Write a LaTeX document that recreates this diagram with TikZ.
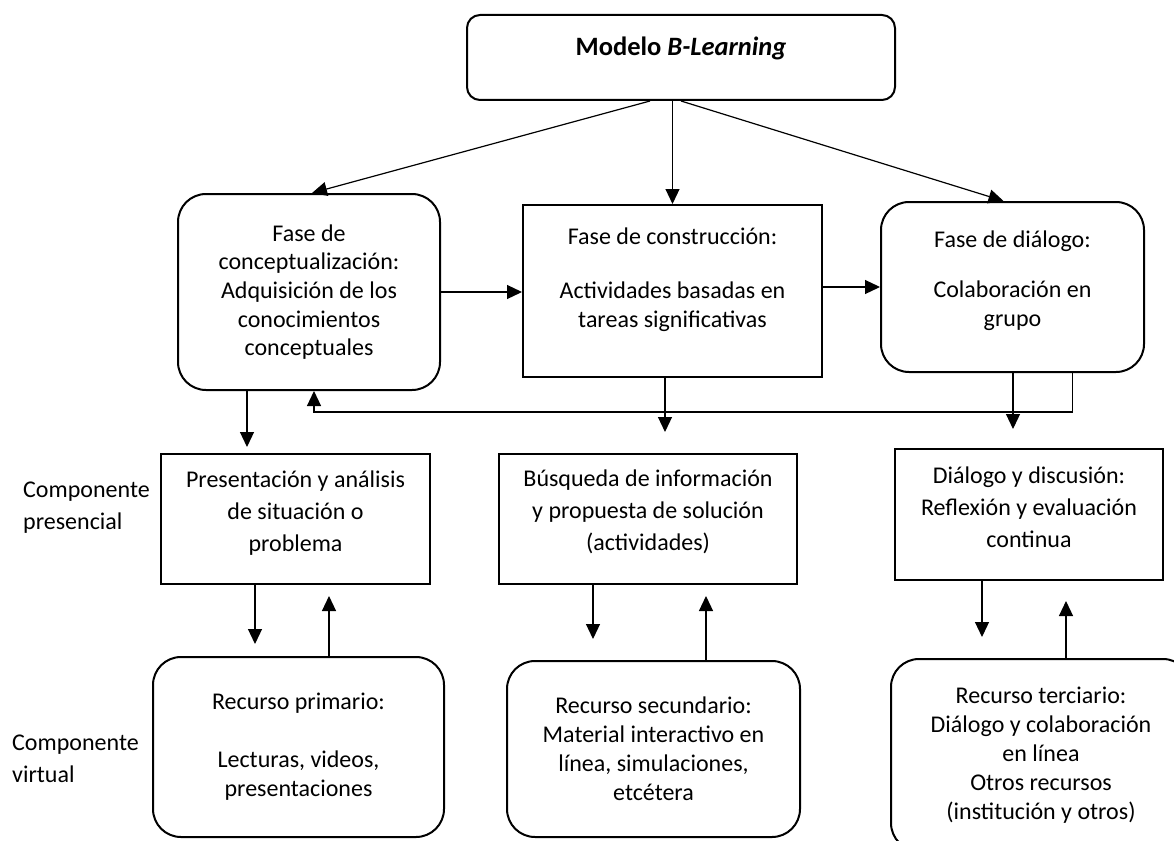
\documentclass[tikz,border=0pt]{standalone}
\usepackage{fontspec}
\setmainfont{Carlito}
\usetikzlibrary{arrows.meta}

\begin{document}
\begin{tikzpicture}[x=1pt, y=-1pt,
  redonda/.style={draw, line width=2pt, rounded corners=28pt, align=center, inner sep=0pt},
  recta/.style={draw, line width=2pt, align=center, inner sep=0pt},
  flecha/.style={-{Triangle[length=15pt,width=14pt]}, line width=1.2pt},
  tipo1/.style={font=\fontsize{24}{28.7}\selectfont},
  tipo2/.style={font=\fontsize{24}{32}\selectfont},
  tipo3/.style={font=\fontsize{24}{29}\selectfont}]
\useasboundingbox (0,0) rectangle (1174,840);
\node[redonda, rounded corners=13pt, font=\fontsize{26.5}{30}\selectfont, minimum width=428, minimum height=85] (m1) at (681,57.5) {\textbf{Modelo \textit{B-Learning}}\\[-8pt]\mbox{}};
% Fases:
\node[redonda, tipo1, minimum width=262, minimum height=196] (f1) at (309,292) {Fase de\\conceptualización:\\Adquisición de los\\conocimientos\\conceptuales};
\node[recta, tipo1, minimum width=299, minimum height=172] (f2) at (672.5,291) {Fase de construcción:\\[26pt]Actividades basadas en\\tareas significativas\\[-2pt]\mbox{}};
\node[redonda, tipo1, minimum width=263, minimum height=170] (f3) at (1012.5,287) {Fase de diálogo:\\[22pt]Colaboración en\\grupo\\[-12pt]\mbox{}};
% Componente presencial:
\node[recta, tipo2, minimum width=269, minimum height=130] (a1) at (295.5,519) {Presentación y análisis\\de situación o\\problema\\[-16pt]\mbox{}};
\node[recta, tipo2, minimum width=298, minimum height=130] (a2) at (648,519) {Búsqueda de información\\y propuesta de solución\\(actividades)\\[-15pt]\mbox{}};
\node[recta, tipo2, minimum width=268, minimum height=131] (a3) at (1029,514.5) {Diálogo y discusión:\\Reflexión y evaluación\\continua\\[-18pt]\mbox{}};
% Componente virtual:
\node[redonda, tipo3, minimum width=291, minimum height=180] (r1) at (298.5,747) {Recurso primario:\\[29pt]Lecturas, videos,\\presentaciones};
\node[redonda, tipo3, minimum width=293, minimum height=176] (r2) at (653.5,749) {Recurso secundario:\\Material interactivo en\\línea, simulaciones,\\etcétera};
\node[redonda, tipo3, minimum width=300, minimum height=192] (r3) at (1041,755) {Recurso terciario:\\Diálogo y colaboración\\en línea\\Otros recursos\\(institución y otros)};
\node[tipo2, anchor=west, align=left, inner sep=0pt] (c1) at (23,508) {Componente\\presencial};
\node[tipo2, anchor=west, align=left, inner sep=0pt] (c2) at (12,759) {Componente\\virtual};
% Flechas:
\draw[flecha] ([xshift=-31pt]m1.south) -- ([xshift=3pt]f1.north);
\draw[flecha] (m1.south -| f2.north) -- (f2.north);
\draw[flecha] (m1.south) -- ([xshift=-9pt]f3.north);
\draw[flecha] (f1.east) -- (f1.east -| f2.west);
\draw[flecha] (f2.east |- f3.west) -- (f3.west);
\draw[flecha] ([xshift=60pt]f3.south) -- ++(0,39) -| ([xshift=5pt]f1.south);
\draw[flecha, shorten >=6pt] (247,0 |- f1.south) -- (247,0 |- a1.north);
\draw[flecha, shorten >=21pt] (665,0 |- f2.south) -- (665,0 |- a2.north);
\draw[flecha, shorten >=19pt] (1013,0 |- f3.south) -- (1013,0 |- a3.north);
\draw[flecha, shorten >=12pt] (255,0 |- a1.south) -- (255,0 |- r1.north);
\draw[flecha, shorten >=11pt] (329,0 |- r1.north) -- (329,0 |- a1.south);
\draw[flecha, shorten >=21pt] (593,0 |- a2.south) -- (593,0 |- r2.north);
\draw[flecha, shorten >=11pt] (706,0 |- r2.north) -- (706,0 |- a2.south);
\draw[flecha, shorten >=21pt] (982,0 |- a3.south) -- (982,0 |- r3.north);
\draw[flecha, shorten >=20pt] (1066,0 |- r3.north) -- (1066,0 |- a3.south);
\end{tikzpicture}
\end{document}
